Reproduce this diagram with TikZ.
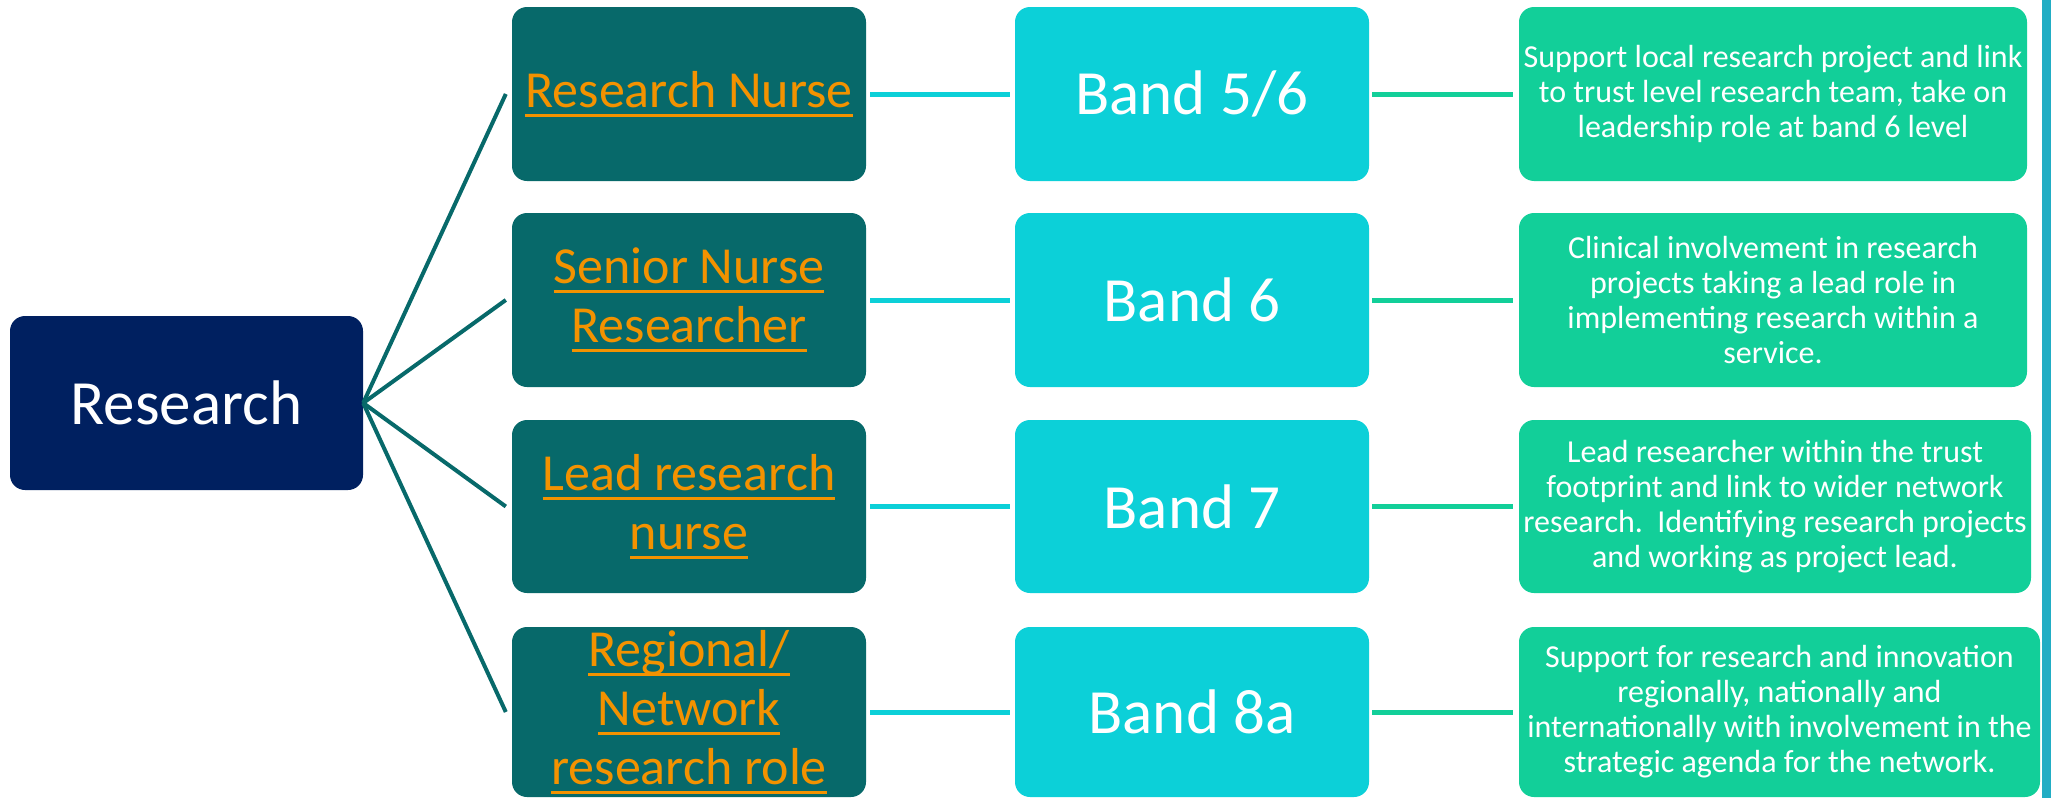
\documentclass[tikz,border=0pt]{standalone}
\usepackage{fontspec}
\setmainfont{Carlito}
\definecolor{navy}{RGB}{0,32,96}
\definecolor{tealbox}{RGB}{7,105,106}
\definecolor{linkorange}{RGB}{243,146,0}
\definecolor{cyanbox}{RGB}{12,208,216}
\definecolor{greenbox}{RGB}{18,207,153}
\definecolor{barblue}{RGB}{34,173,196}
\newcommand\ulink[1]{\setbox0\hbox{#1}\rlap{\box0}\setbox0\hbox{#1}\rule[-10pt]{\wd0}{3pt}}
\begin{document}
\begin{tikzpicture}[x=1pt,y=-1pt,
  box/.style={rectangle, rounded corners=15pt, inner sep=0pt, align=center},
  rootbox/.style={box, fill=navy, text=white, minimum width=353pt, minimum height=174pt, font=\fontsize{63}{68}\selectfont},
  rolebox/.style={box, fill=tealbox, text=linkorange, minimum width=354pt, font=\fontsize{52}{59}\selectfont},
  bandbox/.style={box, fill=cyanbox, text=white, minimum width=354pt, font=\fontsize{63}{68}\selectfont},
  descbox/.style={box, fill=greenbox, text=white, font=\fontsize{32}{35}\selectfont},
  rootline/.style={draw=tealbox, line width=4pt},
  cyanline/.style={draw=cyanbox, line width=5pt, shorten <=4pt, shorten >=5pt},
  greenline/.style={draw=greenbox, line width=5pt, shorten <=3pt, shorten >=6pt}]
\useasboundingbox (0,0) rectangle (2051,798);
\fill[barblue] (2042,0) rectangle (2051,798);
\node[rootbox] (root) at (186.5,403) {Research};
% roles
\node[rolebox, minimum height=174pt] (r1) at (689,94) {\ulink{Research Nurse}};
\node[rolebox, minimum height=174pt] (r2) at (689,300) {\ulink{Senior Nurse}\\\ulink{Researcher}};
\node[rolebox, minimum height=173pt] (r3) at (689,506.5) {\ulink{Lead research}\\\ulink{nurse}};
\node[rolebox, minimum height=170pt] (r4) at (689,712) {\ulink{Regional/}\\\ulink{Network}\\\ulink{research role}};
% bands
\node[bandbox, minimum height=174pt] (b1) at (1192,94) {Band 5/6};
\node[bandbox, minimum height=174pt] (b2) at (1192,300) {Band 6};
\node[bandbox, minimum height=173pt] (b3) at (1192,506.5) {Band 7};
\node[bandbox, minimum height=170pt] (b4) at (1192,712) {Band 8a};
% descriptions
\node[descbox, minimum width=508pt, minimum height=174pt] (d1) at (1773,94) {Support local research project and link\\to trust level research team, take on\\leadership role at band 6 level};
\node[descbox, minimum width=508pt, minimum height=174pt] (d2) at (1773,300) {Clinical involvement in research\\projects taking a lead role in\\implementing research within a\\service.};
\node[descbox, minimum width=512pt, minimum height=173pt] (d3) at (1775,506.5) {Lead researcher within the trust\\footprint and link to wider network\\research.\ \ Identifying research projects\\and working as project lead.};
\node[descbox, minimum width=521pt, minimum height=170pt] (d4) at (1779.5,712) {Support for research and innovation\\regionally, nationally and\\internationally with involvement in the\\strategic agenda for the network.};
% connectors
\foreach \i in {1,2,3,4} {
  \draw[rootline] (root.east) -- ([xshift=-6pt]r\i.west);
  \draw[cyanline] (r\i.east) -- (b\i.west);
  \draw[greenline] (b\i.east) -- (d\i.west);
}
\end{tikzpicture}
\end{document}
